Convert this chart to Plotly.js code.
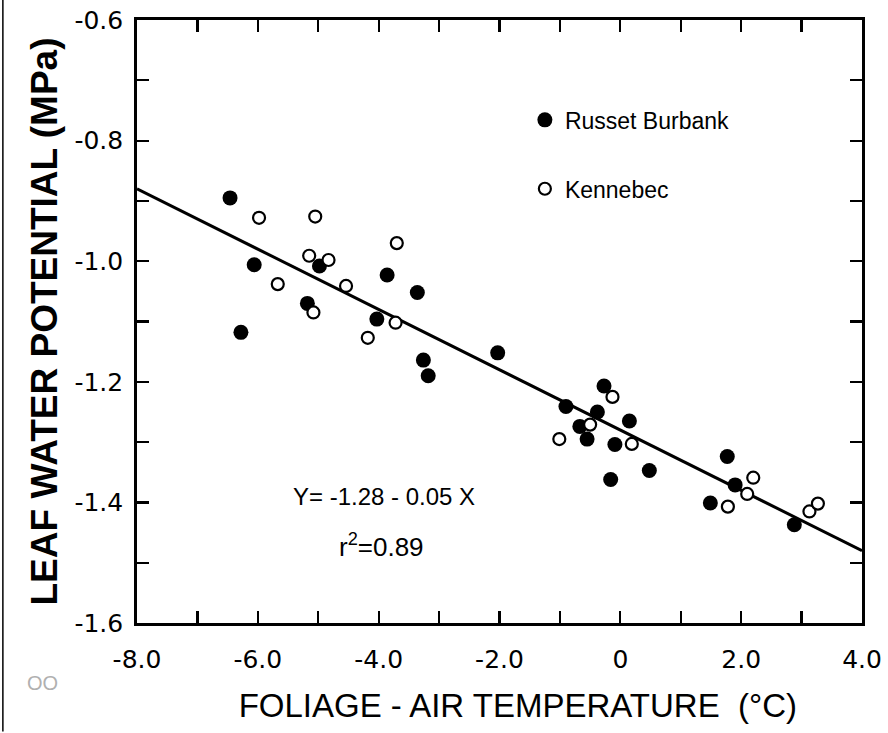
<!DOCTYPE html>
<html>
<head>
<meta charset="utf-8">
<script src="https://cdn.plot.ly/plotly-3.0.1.min.js"></script>
<style>html,body{margin:0;padding:0;background:#fff;}#chart{width:888px;height:733px;}</style>
</head>
<body>
<div id="chart"></div>
<script>
// Russet Burbank (filled)
const russetX = [-6.46,-6.06,-6.28,-4.98,-5.18,-3.86,-3.36,-4.03,-3.26,-3.18,-2.03,-0.90,-0.27,-0.38,-0.67,-0.55,0.15,-0.09,-0.16,0.48,1.77,1.90,1.49,2.88];
const russetY = [-0.895,-1.006,-1.118,-1.008,-1.070,-1.023,-1.052,-1.096,-1.164,-1.190,-1.152,-1.241,-1.207,-1.250,-1.274,-1.295,-1.265,-1.304,-1.362,-1.347,-1.324,-1.371,-1.401,-1.437];
// Kennebec (open)
const kennX = [-5.98,-5.05,-5.15,-4.83,-5.67,-4.54,-5.08,-3.70,-3.72,-4.18,-0.13,-0.50,-1.01,0.19,2.20,2.10,1.78,3.13,3.27];
const kennY = [-0.928,-0.926,-0.991,-0.998,-1.038,-1.041,-1.085,-0.970,-1.102,-1.127,-1.225,-1.271,-1.295,-1.303,-1.359,-1.386,-1.407,-1.415,-1.402];
// Regression Y = a + b X
const regA = -1.28, regB = -0.05;
const regX = [-8, 4];
const regY = regX.map(x => regA + regB * x);

const xTickVals = [-8,-7,-6,-5,-4,-3,-2,-1,0,1,2,3,4];
const xTickText = ['-8.0','','-6.0','','-4.0','','-2.0','','0','','2.0','','4.0'];
const yTickVals = [-1.6,-1.5,-1.4,-1.3,-1.2,-1.1,-1.0,-0.9,-0.8,-0.7,-0.6];
const yTickText = ['-1.6','','-1.4','','-1.2','','-1.0','','-0.8','','-0.6'];

const font = 'Liberation Sans, Arial, sans-serif';
const tickFont = 'DejaVu Sans, sans-serif';

const traces = [
  {x: regX, y: regY, mode: 'lines', line: {color: '#000', width: 3}, showlegend: false, hoverinfo: 'skip'},
  {x: russetX, y: russetY, mode: 'markers', name: 'Russet Burbank', legendgroup: 'a',
   marker: {symbol: 'circle', size: 15, color: '#000', line: {width: 0}}},
  {x: kennX, y: kennY, mode: 'markers', name: 'Kennebec', legendgroup: 'b',
   marker: {symbol: 'circle', size: 12, color: '#fff', line: {color: '#000', width: 2.2}}}
];

const layout = {
  width: 888, height: 733,
  margin: {l: 137, r: 26, t: 20, b: 110},
  paper_bgcolor: '#fff', plot_bgcolor: '#fff',
  font: {family: font, color: '#000'},
  showlegend: true,
  legend: {x: 0.535, y: 0.87, xanchor: 'left', yanchor: 'top', bgcolor: 'rgba(0,0,0,0)',
           font: {size: 23, family: font}, tracegroupgap: 36, traceorder: 'grouped'},
  xaxis: {range: [-8, 4], tickvals: xTickVals, ticktext: xTickText, ticks: 'inside', ticklen: 12,
          tickwidth: 2.2, tickcolor: '#000', showline: true, linewidth: 2.8, linecolor: '#000', mirror: 'ticks',
          showgrid: false, zeroline: false, tickfont: {size: 25, family: tickFont}, ticklabelstandoff: 12,
          title: {text: '&nbsp;&nbsp;&nbsp;&nbsp;FOLIAGE - AIR TEMPERATURE &nbsp;(°C)', font: {size: 33, family: font}, standoff: 22}},
  yaxis: {range: [-1.6, -0.6], tickvals: yTickVals, ticktext: yTickText, ticks: 'inside', ticklen: 12,
          tickwidth: 2.2, tickcolor: '#000', showline: true, linewidth: 2.8, linecolor: '#000', mirror: 'ticks',
          showgrid: false, zeroline: false, tickfont: {size: 25, family: tickFont}, ticklabelstandoff: 6,
          title: {text: '<b>LEAF WATER POTENTIAL (MPa)</b>', font: {size: 37, family: font}, standoff: 6}},
  annotations: [
    {x: -3.91, y: -1.391, xref: 'x', yref: 'y', text: 'Y= -1.28 - 0.05 X', showarrow: false, xanchor: 'center', yanchor: 'middle', font: {size: 24, family: font}},
    {x: -3.96, y: -1.472, xref: 'x', yref: 'y', text: 'r<sup>2</sup>=0.89', showarrow: false, xanchor: 'center', yanchor: 'middle', font: {size: 26, family: font}},
    {x: -0.131, y: -0.0995, xref: 'paper', yref: 'paper', text: 'OO', showarrow: false, xanchor: 'center', yanchor: 'middle', font: {size: 20, family: font, color: '#b0b0b0'}}
  ],
  shapes: [
    {type: 'line', xref: 'paper', yref: 'paper', x0: -0.185, x1: -0.185, y0: -0.18, y1: 1.033, line: {color: '#000', width: 1.5}}
  ]
};

Plotly.newPlot('chart', traces, layout, {displayModeBar: false, staticPlot: true});
</script>
</body>
</html>
